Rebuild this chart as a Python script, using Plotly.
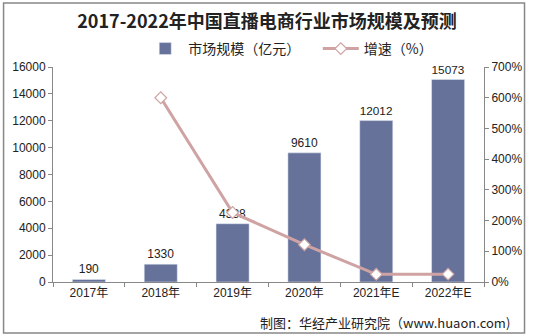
import plotly.graph_objects as go

years = ["2017年", "2018年", "2019年", "2020年", "2021年E", "2022年E"]
market = [190, 1330, 4338, 9610, 12012, 15073]
growth = [None, 600.0, 226.2, 121.5, 25.0, 25.5]

L, R, T, B = 53, 45, 67, 54
W, H = 534, 336
pw, ph = W - L - R, H - T - B

def px_x(x):
    return (x - L) / pw

def px_y(y):
    return (H - B - y) / ph

bar_color = "#66729A"
line_color = "#CFA3A3"
font = "Liberation Sans, Arial, Noto Sans CJK SC"

fig = go.Figure()
fig.add_trace(go.Bar(
    x=years, y=market, name="市场规模（亿元）\u00a0\u00a0\u00a0\u00a0", marker_color=bar_color,
    text=[str(v) for v in market], textposition="outside",
    textfont=dict(size=12, color="#222", family=font), cliponaxis=False,
))
fig.add_trace(go.Scatter(
    x=years, y=growth, name="增速（%）", yaxis="y2", mode="lines+markers",
    line=dict(color=line_color, width=3),
    marker=dict(symbol="diamond", size=9, color="white", line=dict(color=line_color, width=1.2)),
))

fig.update_layout(
    width=W, height=H, margin=dict(l=L, r=R, t=T, b=B),
    paper_bgcolor="white", plot_bgcolor="white",
    font=dict(family=font, size=12, color="#222"),
    bargap=0.54,
    showlegend=True,
    legend=dict(orientation="h", x=px_x(293), xanchor="center", y=px_y(49), yanchor="middle",
                font=dict(size=14, family="Noto Sans CJK SC"), itemwidth=36, traceorder="normal"),
    title=dict(text="<b>2017-2022年中国直播电商行业市场规模及预测</b>", x=0.5, xanchor="center",
               y=1 - 22 / H, yanchor="middle",
               font=dict(size=18, family="Noto Sans CJK SC", color="#222")),
    xaxis=dict(showline=True, linecolor="#888", ticks="outside", tickcolor="#888", ticklen=4,
               showgrid=False, tickson="boundaries", tickfont=dict(size=12, color="#222")),
    yaxis=dict(range=[0, 16000], dtick=2000, tickformat="d", showline=True, linecolor="#888",
               ticks="outside", tickcolor="#888", ticklen=4, showgrid=False, zeroline=False,
               tickfont=dict(size=12, color="#222")),
    yaxis2=dict(range=[0, 700], dtick=100, overlaying="y", side="right", showline=True,
                linecolor="#888", ticks="outside", tickcolor="#888", ticklen=4, showgrid=False,
                zeroline=False, ticksuffix="%", tickfont=dict(size=12, color="#222")),
    shapes=[dict(type="rect", xref="paper", yref="paper",
                 x0=px_x(3), x1=px_x(530), y0=px_y(333), y1=px_y(3),
                 line=dict(color="#888", width=1.5), fillcolor="rgba(0,0,0,0)", layer="below")],
    annotations=[dict(text="制图：华经产业研究院（www.huaon.com)", xref="paper", yref="paper",
                      x=px_x(517), y=px_y(322), xanchor="right", yanchor="middle",
                      showarrow=False, font=dict(size=13, color="#222", family="Noto Sans CJK SC"))],
)

fig.write_html("out.html")
